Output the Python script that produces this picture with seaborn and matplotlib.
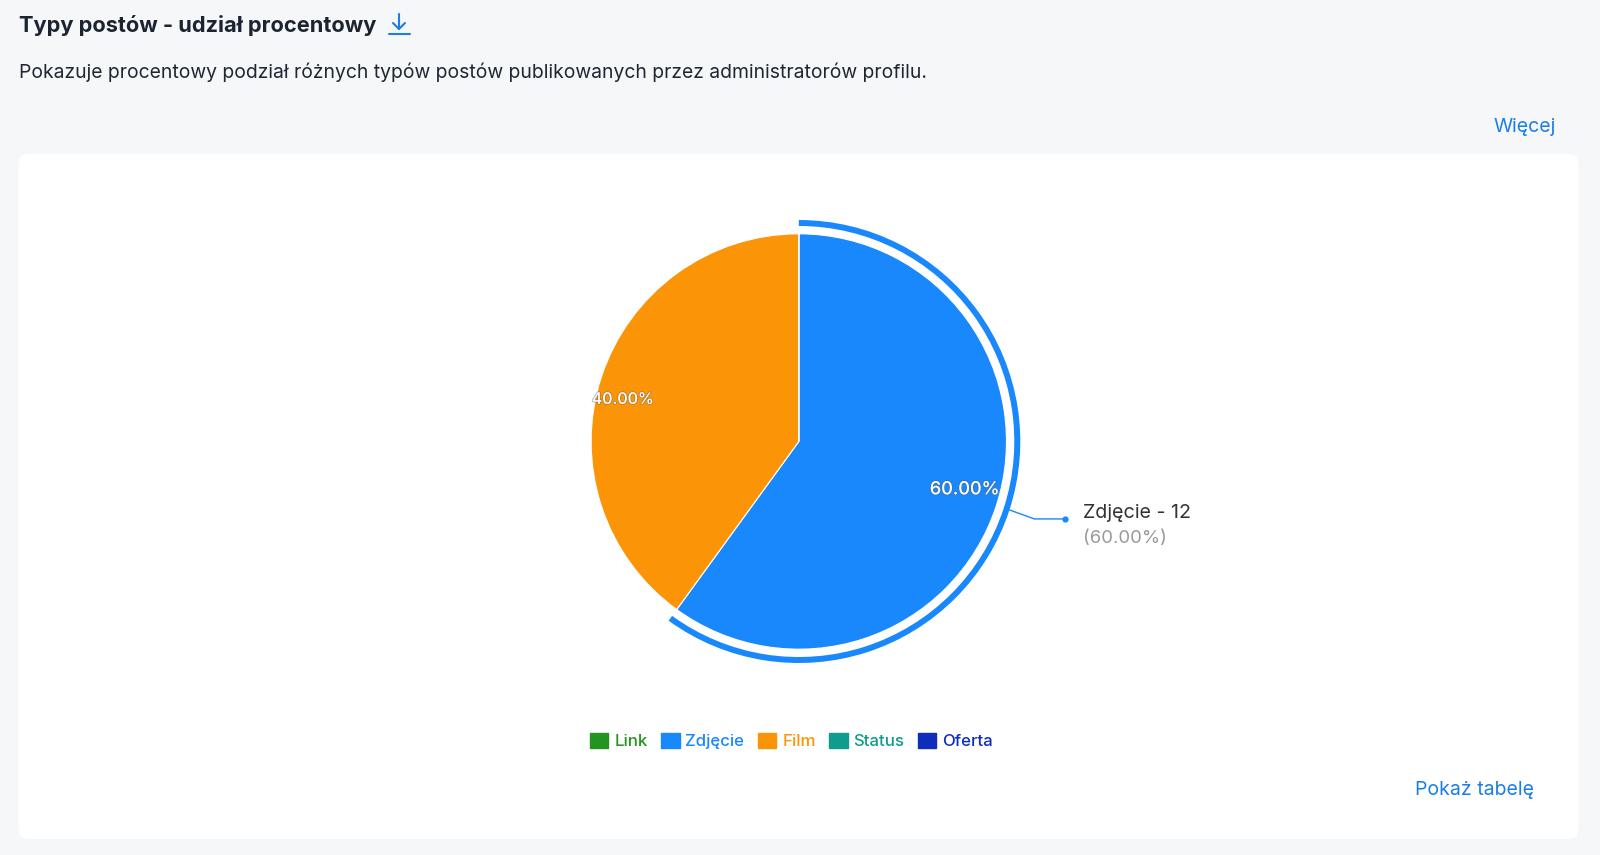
import matplotlib.pyplot as plt
import matplotlib.patheffects as pe
import numpy as np
import seaborn as sns
from matplotlib.patches import FancyBboxPatch, Patch

# data
post_types = ["Link", "Zdjęcie", "Film", "Status", "Oferta"]
post_counts = [0, 12, 8, 0, 0]
type_colors = ["#23941f", "#1a88fd", "#fb9406", "#0e9c8e", "#0e2dbb"]
highlighted = "Zdjęcie"

title = "Typy postów - udział procentowy"
subtitle = "Pokazuje procentowy podział różnych typów postów publikowanych przez administratorów profilu."
more_link = "Więcej"
table_link = "Pokaż tabelę"

W, H = 1600, 855
BG = "#f6f7f9"
LINK = "#1a7ee8"
cx, cy, R = 798.8, 441.5, 207.7

sns.set_theme(style="white")
plt.rcParams["font.family"] = ["Inter", "DejaVu Sans"]
palette = sns.color_palette(type_colors)

fig = plt.figure(figsize=(W / 100, H / 100), dpi=100, facecolor=BG)

# page layer, in pixels of the screenshot
page = fig.add_axes([0, 0, 1, 1])
page.set_xlim(0, W)
page.set_ylim(H, 0)
page.axis("off")
page.add_patch(FancyBboxPatch((18.5, 154), 1560, 685, boxstyle="round,pad=0,rounding_size=9", fc="white", ec="none"))

page.text(19, 25, title, fontsize=15.7, fontweight="bold", color="#1b2430", va="center")
page.text(19, 72, subtitle, fontsize=13.92, color="#1f2733", va="center")
page.text(1556, 127, more_link, fontsize=14, color=LINK, va="center", ha="right")
page.text(1534, 789.5, table_link, fontsize=14, color=LINK, va="center", ha="right")

# download icon
page.plot([399, 399], [14, 29], color=LINK, lw=1.5)
page.plot([393, 399, 405], [23, 29, 23], color=LINK, lw=1.5)
page.plot([388.5, 409.5], [34.5, 34.5], color=LINK, lw=1.5)

# pie layer, one data unit is one pie radius
ax = fig.add_axes([(cx - 1.25 * R) / W, (H - cy - 1.25 * R) / H, 2.5 * R / W, 2.5 * R / H])
ax.patch.set_alpha(0)
wedges, _, pct_texts = ax.pie(
    post_counts,
    colors=palette,
    startangle=90,
    counterclock=False,
    autopct=lambda p: f"{p:.2f}%" if p > 0 else "",
    pctdistance=0.85,
    wedgeprops={"edgecolor": "white", "linewidth": 0.8},
    textprops={"color": "white", "fontsize": 13, "fontweight": "medium"},
)
for t, name in zip(pct_texts, post_types):
    t.set_path_effects([pe.withStroke(linewidth=1.0, foreground="#55555580")])
    x, y = t.get_position()
    if name == highlighted:
        t.set_position((x - 0.01, y + 0.03))
    else:
        t.set_fontsize(11.5)
        t.set_position((x - 0.04, y - 0.06))

# selection ring around the highlighted slice
ring_colors = [c if n == highlighted else "none" for n, c in zip(post_types, type_colors)]
ring_out = 221.5 / R
ax.pie(
    post_counts,
    colors=ring_colors,
    radius=ring_out,
    startangle=90,
    counterclock=False,
    wedgeprops={"width": 6 / R, "linewidth": 0},
)

# callout of the highlighted slice
idx = post_types.index(highlighted)
total = sum(post_counts)
share = post_counts[idx] / total
mid = np.deg2rad(360 * (sum(post_counts[:idx]) + post_counts[idx] / 2) / total)
x0 = cx + ring_out * R * np.sin(mid)
y0 = cy - ring_out * R * np.cos(mid)
page.plot([x0, x0 + 25, x0 + 56], [y0, y0 + 9, y0 + 9], color=type_colors[idx], lw=1, zorder=5)
page.plot([x0 + 56], [y0 + 9], "o", color=type_colors[idx], ms=4.5, mew=0, zorder=5)
page.text(x0 + 74, y0 + 3.5, f"{highlighted} - {post_counts[idx]}", fontsize=14.2, color="#333333", va="center")
page.text(x0 + 73.5, y0 + 28.5, f"({share * 100:.2f}%)", fontsize=13.3, color="#999999", va="center")

# legend
handles = [Patch(facecolor=c, edgecolor=c, label=n) for n, c in zip(post_types, type_colors)]
leg = page.legend(
    handles=handles,
    ncols=len(handles),
    loc="center",
    bbox_to_anchor=(791.5, 741),
    bbox_transform=page.transData,
    frameon=False,
    fontsize=12.1,
    handlelength=1.1,
    handleheight=1.0,
    handletextpad=0.35,
    columnspacing=0.8,
    borderpad=0,
    borderaxespad=0,
)
for text, c in zip(leg.get_texts(), type_colors):
    text.set_color(c)
    text.set_fontweight("medium")

fig.savefig("out.png", dpi=100, facecolor=BG)
